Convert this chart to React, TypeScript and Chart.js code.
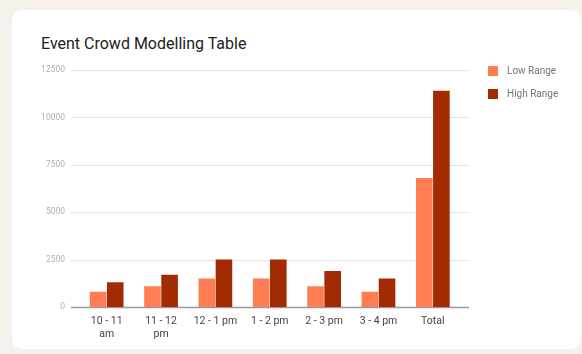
import React, { useEffect, useRef } from "react";
import { Chart, registerables } from "chart.js";

Chart.register(...registerables);

const categories: (string | string[])[] = [
  ["10 - 11", "am"],
  ["11 - 12", "pm"],
  "12 - 1 pm",
  "1 - 2 pm",
  "2 - 3 pm",
  "3 - 4 pm",
  "Total",
];
const lowRange = [800, 1100, 1500, 1500, 1100, 800, 6800];
const highRange = [1300, 1700, 2500, 2500, 1900, 1500, 11400];
const yTicks = [0, 2500, 5000, 7500, 10000, 12500];
const seriesNames = ["Low Range", "High Range"];
const seriesColors = ["#ff7d52", "#a22b02"];

const gridPlugin = {
  id: "extendedGrid",
  beforeDatasetsDraw(chart: any) {
    const { ctx, chartArea, scales } = chart;
    const y = scales.y;
    ctx.save();
    y.ticks.forEach((t: any, i: number) => {
      const py = Math.round(y.getPixelForTick(i)) + 0.5;
      const isZero = t.value === 0;
      ctx.beginPath();
      ctx.strokeStyle = isZero ? "#9a9a9a" : "#e3e3e3";
      ctx.lineWidth = isZero ? 1.5 : 1;
      ctx.moveTo(chartArea.left - 8.5, py);
      ctx.lineTo(chartArea.right + 9, py);
      ctx.stroke();
    });
    ctx.restore();
  },
};

export default function App() {
  const ref = useRef<HTMLCanvasElement>(null);

  useEffect(() => {
    if (!ref.current) return;
    const chart = new Chart(ref.current, {
      type: "bar",
      data: {
        labels: categories,
        datasets: [
          {
            label: seriesNames[0],
            data: lowRange,
            backgroundColor: seriesColors[0],
            categoryPercentage: 0.63,
            barPercentage: 0.97,
          },
          {
            label: seriesNames[1],
            data: highRange,
            backgroundColor: seriesColors[1],
            categoryPercentage: 0.63,
            barPercentage: 0.97,
          },
        ],
      },
      options: {
        responsive: false,
        animation: false,
        devicePixelRatio: 1,
        layout: { padding: { left: 0, right: 122, top: 70, bottom: 0 } },
        plugins: {
          legend: { display: false },
          title: { display: false },
          tooltip: { enabled: false },
        },
        scales: {
          x: {
            grid: { display: false, drawTicks: false },
            border: { display: false },
            ticks: {
              autoSkip: false,
              maxRotation: 0,
              minRotation: 0,
              padding: 7.5,
              color: "#444444",
              font: { family: "Roboto", size: 10.5, lineHeight: 1.25 },
            },
            afterFit(scale: any) {
              scale.height = 47;
            },
          },
          y: {
            min: 0,
            max: 12500,
            grid: { display: false, drawTicks: false },
            border: { display: false },
            afterBuildTicks(scale: any) {
              scale.ticks = yTicks.map((v) => ({ value: v }));
            },
            ticks: {
              padding: 14.5,
              color: "#b0b0b0",
              font: { family: "Roboto", size: 8.5 },
              callback: (v: any) => String(v),
            },
            afterFit(scale: any) {
              scale.width = 79.5;
            },
          },
        },
      },
      plugins: [gridPlugin],
    });
    return () => chart.destroy();
  }, []);

  return (
    <div
      style={{
        position: "fixed",
        left: 0,
        top: 0,
        width: 582,
        height: 354,
        background: "#f6f1ea",
        overflow: "hidden",
        fontFamily: "Roboto, sans-serif",
      }}
    >
      <div
        style={{
          position: "absolute",
          left: 12,
          top: 9.5,
          width: 569,
          height: 339,
          background: "#ffffff",
          borderRadius: 10,
        }}
      />
      <div
        style={{
          position: "absolute",
          left: 41,
          top: 35.5,
          fontSize: 16,
          lineHeight: "16px",
          color: "#212121",
          whiteSpace: "nowrap",
        }}
      >
        Event Crowd Modelling Table
      </div>
      <canvas
        ref={ref}
        width={582}
        height={354}
        style={{ position: "absolute", left: 0, top: 0, width: 582, height: 354 }}
      />
      {seriesNames.map((name, i) => (
        <div
          key={name}
          style={{
            position: "absolute",
            left: 488,
            top: 66 + i * 22.5,
            height: 10,
            display: "flex",
            alignItems: "center",
            whiteSpace: "nowrap",
          }}
        >
          <div style={{ width: 9.5, height: 10, background: seriesColors[i] }} />
          <span
            style={{
              marginLeft: 9.5,
              fontSize: 10,
              lineHeight: "10px",
              color: "#757575",
            }}
          >
            {name}
          </span>
        </div>
      ))}
    </div>
  );
}
